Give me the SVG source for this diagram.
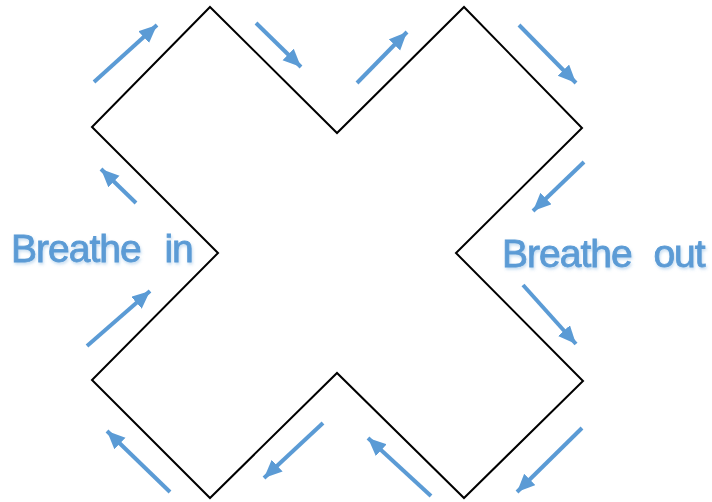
<svg xmlns="http://www.w3.org/2000/svg" width="712" height="502" viewBox="0 0 712 502">
<defs>
<marker id="ah" markerUnits="userSpaceOnUse" markerWidth="22" markerHeight="18" refX="18" refY="8" orient="auto">
<path d="M0,0 L18,8 L0,16 Z" fill="#5b9bd5"/>
</marker>
<filter id="sh" x="-10%" y="-20%" width="120%" height="150%">
<feDropShadow dx="1" dy="2" stdDeviation="1.5" flood-color="#5b9bd5" flood-opacity="0.35"/>
</filter>
</defs>
<style>
.arrow{stroke:#5b9bd5;stroke-width:4;fill:none;marker-end:url(#ah)}
.lbl{font-family:"Liberation Sans",Arial,sans-serif;font-size:39px;fill:#5b9bd5;stroke:#5b9bd5;stroke-width:0.8px;letter-spacing:-1px;filter:url(#sh)}
</style>
<rect width="712" height="502" fill="#ffffff"/>
<g id="cross">
<polygon points="210,7 337,133 464,7 582,128 456,253 583,381 464,498 337,373 210,498 92,380 218,253 92,127" fill="none" stroke="#000000" stroke-width="2" stroke-linejoin="miter"/>
</g>
<g id="connectors">
<line class="arrow" x1="94" y1="82" x2="157" y2="25"/>
<line class="arrow" x1="256" y1="23" x2="301" y2="67"/>
<line class="arrow" x1="357" y1="83" x2="407" y2="32"/>
<line class="arrow" x1="519" y1="25" x2="576" y2="83"/>
<line class="arrow" x1="136" y1="203" x2="101" y2="169"/>
<line class="arrow" x1="87" y1="346" x2="150" y2="291"/>
<line class="arrow" x1="584" y1="162" x2="533" y2="211"/>
<line class="arrow" x1="523" y1="285" x2="576" y2="344"/>
<line class="arrow" x1="170" y1="492" x2="107" y2="431"/>
<line class="arrow" x1="323" y1="423" x2="264" y2="478"/>
<line class="arrow" x1="431" y1="496" x2="368" y2="438"/>
<line class="arrow" x1="582" y1="428" x2="517" y2="492"/>
</g>
<g id="label-in">
<text class="lbl" x="11" y="262" word-spacing="14">Breathe in</text>
</g>
<g id="label-out">
<text class="lbl" x="502" y="267" word-spacing="12">Breathe out</text>
</g>
</svg>
